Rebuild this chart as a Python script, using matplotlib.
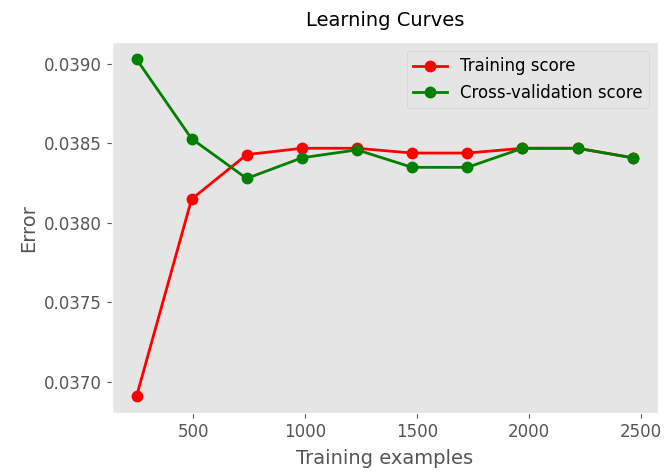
import matplotlib
matplotlib.use('Agg')
import matplotlib.pyplot as plt
from matplotlib import style

style.use('ggplot')

train_sizes = [246, 492, 738, 985, 1231, 1477, 1724, 1970, 2216, 2463]
train_error = [0.03691, 0.03815, 0.03843, 0.03847, 0.03847, 0.03844, 0.03844, 0.03847, 0.03847, 0.03841]
cv_error = [0.03903, 0.03853, 0.03828, 0.03841, 0.03846, 0.03835, 0.03835, 0.03847, 0.03847, 0.03841]

fig = plt.figure(figsize=(6.65, 4.76), dpi=100)
ax = fig.add_axes([0.168, 0.132, 0.821, 0.779])

ax.plot(train_sizes, train_error, 'o-', color='r', lw=2, ms=7.5, label='Training score')
ax.plot(train_sizes, cv_error, 'o-', color='g', lw=2, ms=7.5, label='Cross-validation score')

ax.grid(False)
ax.set_title('Learning Curves', fontsize=14, pad=12)
ax.set_xlabel('Training examples', fontsize=14, labelpad=6)
ax.set_ylabel('Error', fontsize=14)
ax.set_xticks([500, 1000, 1500, 2000, 2500])
ax.tick_params(labelsize=12)
ax.legend(loc='best', fontsize=12)

fig.savefig('out.png', dpi=100)
